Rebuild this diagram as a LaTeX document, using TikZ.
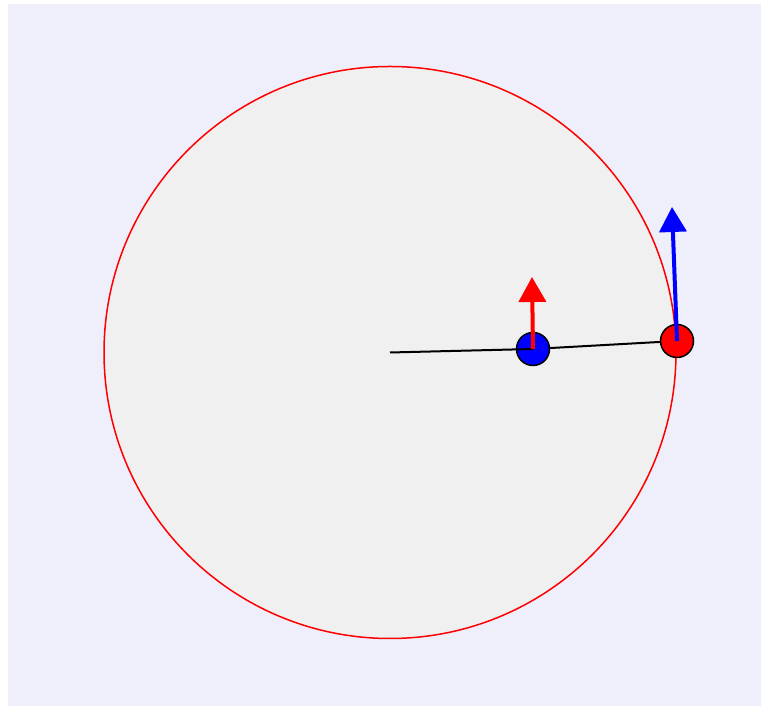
\documentclass[tikz,border=0pt]{standalone}
\usetikzlibrary{arrows.meta}
\definecolor{lav}{RGB}{239,239,251}
\definecolor{disk}{RGB}{240,240,240}
\tikzset{
  ball/.style={circle, draw=black, line width=1.5pt, minimum size=33pt, inner sep=0pt},
  vec/.style={line width=4pt, -{Triangle[width=27pt,length=25pt]}},
}
\begin{document}
\begin{tikzpicture}[x=1pt,y=1pt]
\useasboundingbox (0,0) rectangle (761,706);
\fill[white] (0,0) rectangle (761,706);
\fill[lav] (8,0) rectangle (761,702);
\coordinate (c) at (390,353.5);
\filldraw[fill=disk, draw=red, line width=1.5pt] (c) circle (286);
\node[ball, fill=blue] (b) at (533,357) {};
\node[ball, fill=red] (r) at (677,365) {};
\draw[line width=2pt] (c) -- (b.center);
\draw[line width=2pt] (b) -- (r);
\coordinate (rt) at (532,429);
\coordinate (bt) at (672,499);
\draw[vec, red] (b.center) -- (rt);
\draw[vec, blue] (r.center) -- (bt);
\end{tikzpicture}
\end{document}
